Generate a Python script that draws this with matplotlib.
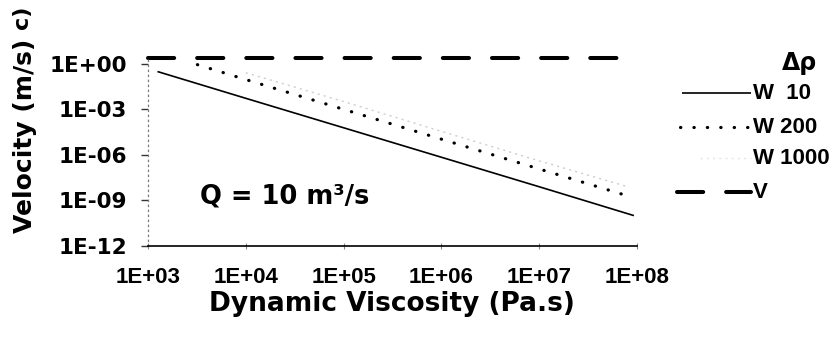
import matplotlib
matplotlib.use("Agg")
import matplotlib.pyplot as plt
from matplotlib.lines import Line2D

# Settling velocity against dynamic viscosity, Q = 10 m3/s
viscosity_w10 = [1.25e3, 1e4, 1e5, 1e6, 1e7, 9.3e7]
velocity_w10 = [0.30, 5.2e-3, 6.0e-5, 6.9e-7, 7.9e-9, 1.0e-10]

viscosity_w200 = [3.2e3, 1e4, 1e5, 1e6, 1e7, 7.8e7]
velocity_w200 = [0.85, 8.9e-2, 9.8e-4, 1.07e-5, 1.17e-7, 2.1e-9]

viscosity_w1000 = [1e4, 1e5, 1e6, 1e7, 8e7]
velocity_w1000 = [0.25, 3.2e-3, 3.5e-5, 4.0e-7, 8e-9]

viscosity_v = [1e3, 1e8]
velocity_v = [2.5, 2.5]

x_ticks = [1e3, 1e4, 1e5, 1e6, 1e7, 1e8]
x_tick_labels = ["1E+03", "1E+04", "1E+05", "1E+06", "1E+07", "1E+08"]
y_ticks = [1e-12, 1e-9, 1e-6, 1e-3, 1e0]
y_tick_labels = ["1E-12", "1E-09", "1E-06", "1E-03", "1E+00"]

legend_title = "\u0394\u03c1"
legend_labels = ["W  10", "W 200", "W 1000", "V"]

W, H = 837, 343
fig = plt.figure(figsize=(W / 100, H / 100), dpi=100)
fig.patch.set_facecolor("white")

left, right, top, bottom = 148, 637, 56, 246
ax = fig.add_axes([left / W, 1 - bottom / H, (right - left) / W, (bottom - top) / H])
ax.set_xscale("log")
ax.set_yscale("log")
ax.set_xlim(1e3, 1e8)
ax.set_ylim(1e-12, 10 ** 0.5)

style_w10 = dict(color="black", lw=1.2, solid_capstyle="butt")
style_w200 = dict(color="black", lw=2.3, linestyle=(0, (0.1, 4.1)), dash_capstyle="round")
style_w1000 = dict(color="#cdcdcd", lw=1.0, linestyle=(0, (1.5, 3.0)))
style_v = dict(color="black", lw=2.9, linestyle=(0, (6.5, 5.7)), dash_capstyle="round")

ax.plot(viscosity_w1000, velocity_w1000, **style_w1000)
ax.plot(viscosity_w10, velocity_w10, **style_w10)
ax.plot(viscosity_w200, velocity_w200, **style_w200)
ax.plot(viscosity_v, velocity_v, clip_on=False, **style_v)

for s in ("top", "right"):
    ax.spines[s].set_visible(False)
ax.spines["left"].set_color("#7a7a7a")
ax.spines["left"].set_linestyle((0, (1, 3)))
ax.spines["left"].set_linewidth(0.9)
ax.spines["bottom"].set_color("black")
ax.spines["bottom"].set_linewidth(1.2)

ax.set_xticks(x_ticks)
ax.set_xticklabels(x_tick_labels, fontfamily="Liberation Sans", fontweight="bold", fontsize=16)
ax.set_yticks(y_ticks)
ax.set_yticklabels(y_tick_labels, fontfamily="DejaVu Sans", fontweight="bold", fontsize=15.5)
ax.minorticks_off()
ax.tick_params(axis="y", length=5, width=1.0, color="#333333", pad=10)
ax.tick_params(axis="x", length=4, width=0.8, color="#888888", direction="inout", pad=13)

fig.text(392 / W, 1 - 304 / H, "Dynamic Viscosity (Pa.s)", ha="center", va="center",
         fontfamily="DejaVu Sans", fontweight="bold", fontsize=19)
fig.text(25 / W, 1 - 136 / H, "Velocity (m/s)", ha="center", va="center", rotation=90,
         fontfamily="DejaVu Sans", fontweight="bold", fontsize=18)
fig.text(22 / W, 1 - 17 / H, "c)", ha="center", va="center", rotation=90,
         fontfamily="DejaVu Sans", fontweight="bold", fontsize=16)
fig.text(200 / W, 1 - 197 / H, "Q = 10 m\u00b3/s", ha="left", va="center",
         fontfamily="DejaVu Sans", fontweight="bold", fontsize=18.5)

# legend, drawn by hand
fig.text(800 / W, 1 - 63 / H, legend_title, ha="center", va="center",
         fontfamily="DejaVu Sans", fontweight="bold", fontsize=17)
rows_y = [93, 127, 158, 192]
starts = [682, 680, 700, 677]
styles = [style_w10, style_w200, dict(style_w1000, color="#e4e4e4"), style_v]
for y, x0, lab, st in zip(rows_y, starts, legend_labels, styles):
    fig.add_artist(Line2D([x0 / W, 751 / W], [1 - y / H, 1 - y / H],
                          transform=fig.transFigure, **st))
    fig.text(753 / W, 1 - y / H, lab, ha="left", va="center",
             fontfamily="Liberation Sans", fontweight="bold", fontsize=16)

fig.savefig("out.png", dpi=100, facecolor="white")
